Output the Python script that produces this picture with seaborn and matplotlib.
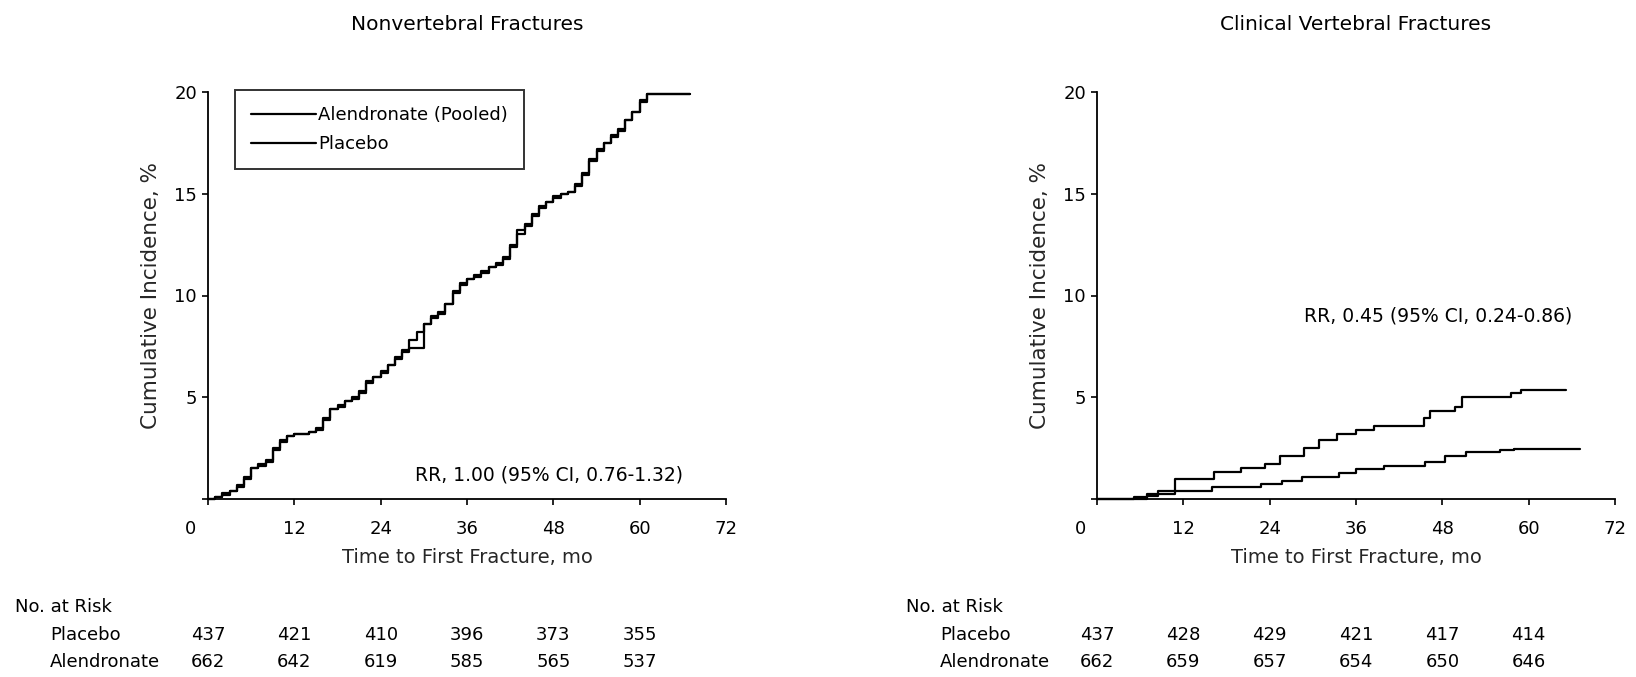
import matplotlib
matplotlib.use("Agg")
import matplotlib.pyplot as plt
import matplotlib.transforms as mtrans
import seaborn as sns
import pandas as pd

# nonvertebral fractures (left panel), step curves
nv_time = [0, 1, 2, 3, 4, 5, 6, 7, 8, 9, 10, 11, 12, 14, 15, 16, 17, 18, 19, 20,
           21, 22, 23, 24, 25, 26, 27, 28, 29, 30, 31, 32, 33, 34, 35, 36, 37, 38,
           39, 40, 41, 42, 43, 44, 45, 46, 47, 48, 49, 50, 51, 52, 53, 54, 55, 56,
           57, 58, 59, 60, 61, 67]
nv_alendronate = [0, 0.1, 0.2, 0.4, 0.6, 1.0, 1.5, 1.7, 1.8, 2.4, 2.9, 3.1, 3.2, 3.3,
                  3.5, 3.9, 4.4, 4.6, 4.8, 4.9, 5.3, 5.7, 6.0, 6.3, 6.6, 6.9, 7.3, 7.8,
                  8.2, 8.6, 8.9, 9.2, 9.6, 10.1, 10.6, 10.8, 11.0, 11.1, 11.4, 11.6,
                  11.8, 12.5, 13.2, 13.4, 14.0, 14.3, 14.6, 14.9, 15.0, 15.1, 15.5,
                  15.9, 16.6, 17.2, 17.5, 17.8, 18.2, 18.6, 19.0, 19.5, 19.9, 19.9]
nv_placebo = [0, 0.1, 0.3, 0.4, 0.7, 1.1, 1.5, 1.6, 1.9, 2.5, 2.8, 3.1, 3.2, 3.3, 3.4,
              4.0, 4.4, 4.5, 4.8, 5.0, 5.2, 5.8, 6.0, 6.2, 6.6, 7.0, 7.2, 7.4, 7.4,
              8.6, 9.0, 9.1, 9.6, 10.2, 10.5, 10.8, 10.9, 11.2, 11.4, 11.5, 11.9,
              12.4, 13.0, 13.5, 13.9, 14.4, 14.6, 14.8, 15.0, 15.1, 15.4, 16.0, 16.7,
              17.1, 17.5, 17.9, 18.1, 18.6, 19.0, 19.6, 19.9, 19.9]

# clinical vertebral fractures (right panel)
cv_placebo_time = [0, 5.2, 7, 8.5, 10.9, 16.3, 20, 23.4, 25.4, 28.8, 30.8, 33.4, 36,
                   38.5, 45.5, 46.3, 49.8, 50.7, 57.5, 59, 65.2]
cv_placebo = [0, 0.1, 0.25, 0.4, 1.0, 1.35, 1.5, 1.7, 2.1, 2.5, 2.9, 3.2, 3.4, 3.6,
              4.0, 4.3, 4.5, 5.0, 5.2, 5.35, 5.35]
cv_alen_time = [0, 6.9, 8.5, 10.9, 16, 22.8, 25.7, 28.5, 33.6, 36, 39.9, 45.6, 48.4,
                51.3, 56, 58, 67.2]
cv_alendronate = [0, 0.15, 0.25, 0.4, 0.6, 0.75, 0.9, 1.1, 1.3, 1.45, 1.6, 1.8, 2.1,
                  2.3, 2.4, 2.45, 2.45]

risk_months = [0, 12, 24, 36, 48, 60]
nv_risk_placebo = [437, 421, 410, 396, 373, 355]
nv_risk_alendronate = [662, 642, 619, 585, 565, 537]
cv_risk_placebo = [437, 428, 429, 421, 417, 414]
cv_risk_alendronate = [662, 659, 657, 654, 650, 646]

sns.set_theme(style="ticks")
plt.rcParams["font.family"] = ["DejaVu Sans"]
plt.rcParams["axes.edgecolor"] = "black"
plt.rcParams["xtick.color"] = "black"
plt.rcParams["ytick.color"] = "black"
plt.rcParams["text.color"] = "black"

W, H = 1636, 677
fig = plt.figure(figsize=(W / 100, H / 100), dpi=100)
fs = 13

def px_axes(x0, x1, y0, y1):
    return fig.add_axes([x0 / W, 1 - y1 / H, (x1 - x0) / W, (y1 - y0) / H])

ax1 = px_axes(208, 726, 92, 499)
ax2 = px_axes(1097, 1615, 92, 499)

def step(ax, t, v, label):
    df = pd.DataFrame({"t": t, "v": v})
    sns.lineplot(data=df, x="t", y="v", ax=ax, color="black", lw=1.6,
                 drawstyle="steps-post", estimator=None, label=label,
                 clip_on=False)

step(ax1, nv_time, nv_alendronate, "Alendronate (Pooled)")
step(ax1, nv_time, nv_placebo, "Placebo")
step(ax2, cv_alen_time, cv_alendronate, "Alendronate (Pooled)")
step(ax2, cv_placebo_time, cv_placebo, "Placebo")

leg = ax1.legend(loc="upper left", bbox_to_anchor=(0.052, 1.005), frameon=True,
                 fancybox=False, edgecolor="black", fontsize=fs, handlelength=3.6,
                 handletextpad=0.1, borderpad=0.9, labelspacing=0.6,
                 borderaxespad=0)
leg.get_frame().set_linewidth(1.4)
ax2.get_legend().remove()

titles = ["Nonvertebral Fractures", "Clinical Vertebral Fractures"]
shift0 = mtrans.ScaledTranslation(-0.17, 0, fig.dpi_scale_trans)
for ax, title in zip([ax1, ax2], titles):
    ax.set_xlim(0, 72)
    ax.set_ylim(0, 20)
    ax.set_xticks([0, 12, 24, 36, 48, 60, 72])
    ax.set_yticks([0, 5, 10, 15, 20])
    ax.set_yticklabels(["", "5", "10", "15", "20"])
    ax.tick_params(labelsize=fs, length=4, width=1.2)
    ax.tick_params(axis="x", pad=11)
    ax.tick_params(axis="y", pad=4)
    lab0 = ax.get_xticklabels()[0]
    lab0.set_transform(lab0.get_transform() + shift0)
    ax.set_xlabel("Time to First Fracture, mo", fontsize=14)
    ax.xaxis.set_label_coords(0.5, -0.143)
    ax.xaxis.label.set_va("center")
    ax.set_ylabel("Cumulative Incidence, %", fontsize=15.5)
    ax.yaxis.set_label_coords(-0.11, 0.5)
    ax.yaxis.label.set_va("center")
    sns.despine(ax=ax)
    for s in ["left", "bottom"]:
        ax.spines[s].set_linewidth(1.3)
    box = ax.get_position()
    fig.text(box.x0 + box.width / 2, 1 - 24 / H, title, fontsize=14.5,
             ha="center", va="center")

ax1.text(66.0, 1.17, "RR, 1.00 (95% CI, 0.76-1.32)", ha="right", va="center",
         fontsize=13.5)
ax2.text(66.1, 9.0, "RR, 0.45 (95% CI, 0.24-0.86)", ha="right", va="center",
         fontsize=13.5)

# number at risk table
tables = [(ax1, 15, 50, nv_risk_placebo, nv_risk_alendronate),
          (ax2, 906, 940, cv_risk_placebo, cv_risk_alendronate)]
for ax, x_head, x_row, r_pla, r_alen in tables:
    fig.text(x_head / W, 1 - 607 / H, "No. at Risk", fontsize=fs, va="center")
    fig.text(x_row / W, 1 - 635 / H, "Placebo", fontsize=fs, va="center")
    fig.text(x_row / W, 1 - 662 / H, "Alendronate", fontsize=fs, va="center")
    tr = mtrans.blended_transform_factory(ax.transData, fig.transFigure)
    for m, a, b in zip(risk_months, r_pla, r_alen):
        fig.text(m, 1 - 635 / H, str(a), transform=tr, fontsize=fs,
                 ha="center", va="center")
        fig.text(m, 1 - 662 / H, str(b), transform=tr, fontsize=fs,
                 ha="center", va="center")

fig.savefig("out.png", dpi=100, facecolor="white")
